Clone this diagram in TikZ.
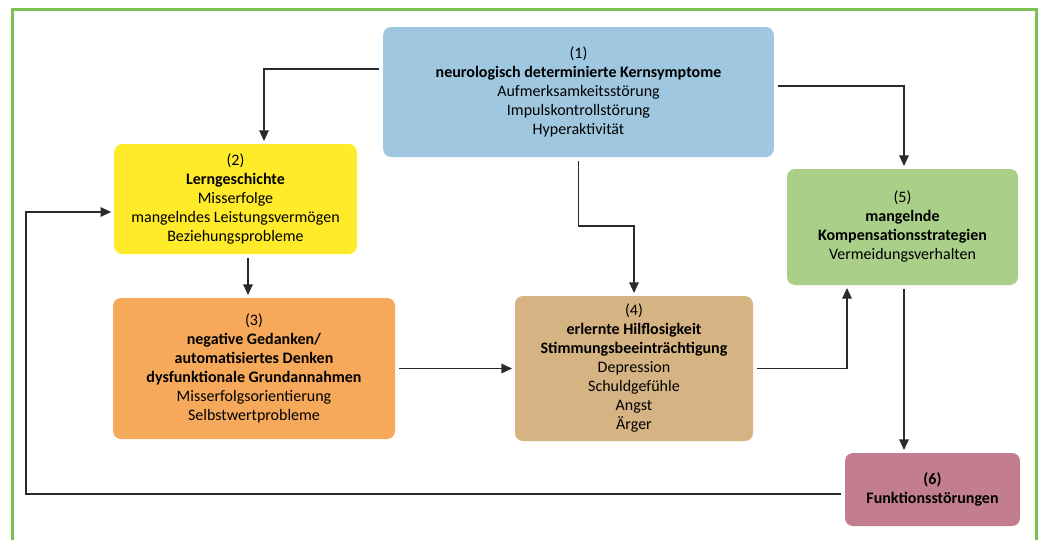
\documentclass[tikz,border=0pt]{standalone}
\usepackage{fontspec}
\setmainfont{Carlito}
\usetikzlibrary{arrows.meta}

\definecolor{kernblau}{HTML}{9FC7E0}
\definecolor{lerngelb}{HTML}{FFEB2A}
\definecolor{denkorange}{HTML}{F6A95B}
\definecolor{stimmungbraun}{HTML}{D5B383}
\definecolor{kompgruen}{HTML}{A9CF88}
\definecolor{funktionrot}{HTML}{C27D8E}
\definecolor{rahmengruen}{HTML}{7AC052}
\definecolor{linie}{HTML}{2A2A2E}

\begin{document}
\begin{tikzpicture}[x=0.75pt,y=-0.75pt,
   box/.style={rounded corners=6pt,align=center,inner sep=0pt,
      font=\fontsize{12}{14.25}\selectfont},
   pfeil/.style={draw=linie,line width=1.4pt,-{Triangle[length=8pt,width=7pt]},
      shorten <=3pt,shorten >=2pt},
   rahmen/.style={draw=rahmengruen,line width=2.25pt}]
   \useasboundingbox (0,0) rectangle (1038,539);
   \draw[rahmen] (12,545) -- (12,9) -- (1036,9) -- (1036,545);

   \node[box,fill=kernblau,minimum width=293pt,minimum height=97.5pt] (b1) at (578.5,92)
      {(1)\\\textbf{neurologisch determinierte Kernsymptome}\\Aufmerksamkeitsstörung\\Impulskontrollstörung\\Hyperaktivität};
   \node[box,fill=lerngelb,minimum width=182pt,minimum height=82.5pt] (b2) at (235.5,199)
      {(2)\\\textbf{Lerngeschichte}\\Misserfolge\\mangelndes Leistungsvermögen\\Beziehungsprobleme};
   \node[box,fill=denkorange,minimum width=211.5pt,minimum height=105.75pt] (b3) at (254,368.5)
      {(3)\\\textbf{negative Gedanken/}\\\textbf{automatisiertes Denken}\\\textbf{dysfunktionale Grundannahmen}\\Misserfolgsorientierung\\Selbstwertprobleme};
   \node[box,fill=stimmungbraun,minimum width=178.5pt,minimum height=108.75pt] (b4) at (634,368.5)
      {(4)\\\textbf{erlernte Hilflosigkeit}\\\textbf{Stimmungsbeeinträchtigung}\\Depression\\Schuldgefühle\\Angst\\Ärger};
   \node[box,fill=kompgruen,minimum width=173.25pt,minimum height=87pt] (b5) at (902.5,227)
      {(5)\\\textbf{mangelnde}\\\textbf{Kompensationsstrategien}\\Vermeidungsverhalten};
   \node[box,fill=funktionrot,minimum width=131.25pt,minimum height=54.75pt] (b6) at (932.5,489.5)
      {\textbf{(6)}\\\textbf{Funktionsstörungen}};

   % Knickpunkte der Verbindungen
   \coordinate (k12) at (264,69);
   \coordinate (k15) at (904,86);
   \coordinate (k14) at (634,226);
   \coordinate (k23) at (248,0);
   \coordinate (k45) at (847,0);
   \coordinate (k56) at (904,0);
   \coordinate (r1) at (26,494);
   \coordinate (r2) at (26,212);

   \draw[pfeil] (b1.west |- k12) -| (b2.north -| k12);
   \draw[pfeil] (b1.east |- k15) -| (b5.north -| k15);
   \draw[pfeil] (b1.south) |- (k14) -- (b4.north);
   \draw[pfeil] (b2.south -| k23) -- (b3.north -| k23);
   \draw[pfeil] (b3.east) -- (b4.west);
   \draw[pfeil] (b4.east) -| (b5.south -| k45);
   \draw[pfeil] (b5.south -| k56) -- (b6.north -| k56);
   \draw[pfeil] (b6.west |- r1) -- (r1) -- (r2) -- (b2.west |- r2);
\end{tikzpicture}
\end{document}
